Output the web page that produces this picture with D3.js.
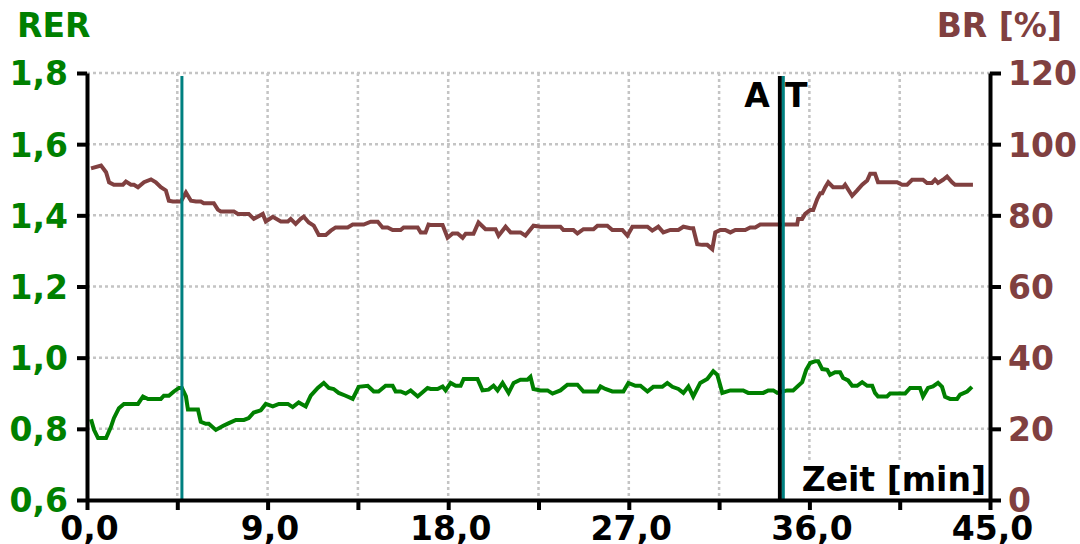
<!DOCTYPE html>
<html><head><meta charset="utf-8">
<script src="https://cdn.jsdelivr.net/npm/d3@7"></script>
<style>html,body{margin:0;padding:0;background:#fff;overflow:hidden}</style>
</head><body>
<svg id="c" width="1080" height="544"></svg>
<script>
// ---- data ----
const brTime = [0.20,0.70,0.95,1.10,1.34,1.79,1.94,2.19,2.34,2.54,2.84,3.19,3.43,3.68,3.93,4.08,4.28,4.68,4.93,5.18,5.43,5.67,5.82,6.32,6.52,6.67,7.32,7.52,8.06,8.31,8.76,8.91,9.26,9.66,10.01,10.15,10.40,10.65,10.80,11.05,11.30,11.55,11.90,12.15,12.39,12.99,13.24,13.79,14.14,14.49,14.73,14.98,15.23,15.63,15.78,16.48,16.63,16.87,17.02,17.12,17.72,17.97,18.22,18.47,18.72,18.87,19.26,19.51,19.86,20.36,20.51,20.86,21.11,21.60,21.85,22.25,22.60,23.59,23.74,24.24,24.44,24.74,25.24,25.44,25.93,26.18,26.68,26.93,27.18,27.93,28.17,28.47,28.72,29.07,29.47,29.72,30.07,30.21,30.41,30.66,30.91,31.16,31.31,31.56,31.81,32.06,32.31,32.80,33.05,33.30,33.55,34.40,34.89,35.39,35.44,35.64,35.79,36.04,36.19,36.39,36.54,36.64,36.79,36.94,37.18,37.68,37.78,38.13,38.38,38.63,38.88,39.03,39.27,39.42,40.37,40.62,40.87,41.12,41.66,41.86,42.11,42.26,42.41,42.66,42.86,43.11,43.26,44.15];
const brValues = [93.2,94.0,92.1,89.3,88.6,88.6,89.5,88.6,88.6,87.9,89.3,90.1,89.3,87.9,87.0,84.1,83.9,83.9,86.4,84.1,83.9,83.9,83.4,83.4,81.6,81.1,81.1,80.4,80.4,79.0,80.4,78.3,79.6,78.3,78.3,79.0,77.6,79.0,79.6,78.0,77.1,74.5,74.5,75.7,76.6,76.6,77.4,77.4,78.2,78.2,76.6,76.6,75.9,75.9,76.6,76.6,75.2,75.2,77.4,77.3,77.3,73.7,74.9,74.9,73.7,74.8,74.8,78.0,76.1,76.1,74.3,76.8,75.2,75.2,74.3,77.1,76.8,76.8,75.9,75.9,74.9,76.1,76.1,77.1,77.1,75.9,75.9,74.3,76.8,76.8,75.7,76.8,75.2,75.9,75.9,76.8,76.4,76.4,71.9,71.7,71.7,70.5,75.2,75.9,75.9,75.2,75.9,75.9,76.6,76.6,77.4,77.4,77.4,77.4,79.0,79.0,80.4,81.5,81.5,84.6,86.2,86.2,87.9,89.3,87.9,87.9,88.6,85.5,87.0,88.6,89.8,91.7,91.7,89.3,89.3,88.6,88.6,90.0,90.0,89.1,89.1,90.0,89.1,90.0,90.9,89.3,88.6,88.6];

const rerTime = [0.20,0.35,0.55,0.95,1.19,1.34,1.59,1.84,2.54,2.79,3.04,3.68,3.83,4.08,4.33,4.58,4.73,4.93,5.03,5.53,5.67,5.92,6.07,6.42,6.77,7.07,7.42,7.82,8.06,8.31,8.66,8.91,9.26,9.56,10.01,10.25,10.55,10.90,11.15,11.50,11.80,12.05,12.29,12.54,12.89,13.24,13.54,13.99,14.29,14.53,14.88,15.23,15.38,15.63,15.88,16.13,16.48,16.97,17.12,17.47,17.72,17.87,18.12,18.37,18.62,18.77,19.46,19.71,20.01,20.26,20.46,20.71,21.01,21.26,21.60,21.95,22.10,22.25,22.60,22.95,23.20,23.59,23.94,24.44,24.74,25.44,25.59,25.83,26.18,26.73,26.98,27.33,27.58,27.93,28.22,28.67,28.92,29.17,29.47,29.72,29.97,30.21,30.56,30.91,31.21,31.41,31.66,32.06,32.70,32.95,33.70,33.95,34.20,34.40,34.89,35.19,35.39,35.64,35.84,36.04,36.29,36.44,36.64,36.89,37.03,37.28,37.53,37.68,37.93,38.13,38.38,38.63,38.88,39.13,39.27,39.42,39.87,40.02,40.77,41.02,41.51,41.66,41.91,42.16,42.41,42.61,42.76,43.01,43.36,43.51,43.86,44.10];
const rerValues = [0.827,0.797,0.774,0.774,0.805,0.830,0.858,0.870,0.870,0.891,0.884,0.884,0.893,0.893,0.905,0.915,0.915,0.891,0.854,0.854,0.820,0.814,0.814,0.797,0.808,0.816,0.825,0.825,0.830,0.846,0.852,0.870,0.863,0.870,0.870,0.861,0.874,0.863,0.893,0.915,0.929,0.915,0.912,0.901,0.893,0.884,0.918,0.921,0.905,0.905,0.921,0.921,0.905,0.905,0.899,0.908,0.891,0.915,0.912,0.912,0.919,0.908,0.929,0.921,0.921,0.940,0.940,0.908,0.910,0.921,0.908,0.929,0.901,0.929,0.938,0.938,0.946,0.912,0.908,0.908,0.899,0.908,0.924,0.924,0.905,0.905,0.919,0.912,0.905,0.905,0.929,0.921,0.921,0.905,0.918,0.918,0.929,0.918,0.912,0.901,0.919,0.891,0.929,0.940,0.962,0.952,0.901,0.908,0.908,0.901,0.901,0.908,0.908,0.901,0.908,0.908,0.918,0.931,0.966,0.985,0.990,0.990,0.968,0.966,0.952,0.959,0.959,0.943,0.936,0.921,0.921,0.931,0.921,0.921,0.901,0.891,0.891,0.899,0.899,0.915,0.915,0.891,0.915,0.919,0.929,0.918,0.890,0.884,0.884,0.896,0.905,0.918];

const xTicks = [0,4.5,9,13.5,18,22.5,27,31.5,36,40.5,45];
const xTickLabels = {0:"0,0",9:"9,0",18:"18,0",27:"27,0",36:"36,0",45:"45,0"};
const rerTicks = [0.6,0.8,1.0,1.2,1.4,1.6,1.8];
const rerTickLabels = ["0,6","0,8","1,0","1,2","1,4","1,6","1,8"];
const brTicks = [0,20,40,60,80,100,120];
const brTickLabels = ["0","20","40","60","80","100","120"];
const tealMarkers = [4.73, 34.70];
const atMarker = 34.53;
const atLabels = ["A","T"];
const titles = {left:"RER", right:"BR [%]", x:"Zeit [min]"};

// ---- drawing ----
const FONT = "'DejaVu Sans', sans-serif";
const svg = d3.select("#c");
const L = 87, R = 990, T = 73, B = 500;
const x = d3.scaleLinear().domain([0,45]).range([L,R]);
const yL = d3.scaleLinear().domain([0.6,1.8]).range([B,T]);
const yR = d3.scaleLinear().domain([0,120]).range([B,T]);
const GREEN = "#008000", BROWN = "#804040", TEAL = "#008080";

// grid
const grid = svg.append("g").attr("stroke","#c4c4c4").attr("stroke-width",2.5).attr("stroke-dasharray","3,3");
rerTicks.filter(v=>v>0.6).forEach(v=>{
  grid.append("line").attr("x1",L).attr("x2",R).attr("y1",yL(v)).attr("y2",yL(v));
});
xTicks.filter(v=>v>0 && v<45).forEach(v=>{
  grid.append("line").attr("x1",x(v)).attr("x2",x(v)).attr("y1",T).attr("y2",B);
});

// data lines
const brLine = d3.line().x((d,i)=>x(brTime[i])).y(d=>yR(d));
const rerLine = d3.line().x((d,i)=>x(rerTime[i])).y(d=>yL(d));
svg.append("path").attr("d",brLine(brValues)).attr("fill","none").attr("stroke",BROWN).attr("stroke-width",4).attr("stroke-linejoin","miter");
svg.append("path").attr("d",rerLine(rerValues)).attr("fill","none").attr("stroke",GREEN).attr("stroke-width",4).attr("stroke-linejoin","miter");

// markers
svg.append("line").attr("x1",x(atMarker)).attr("x2",x(atMarker)).attr("y1",T+3).attr("y2",B)
  .attr("stroke","#000").attr("stroke-width",4);
tealMarkers.forEach(t=>{
  svg.append("line").attr("x1",x(t)).attr("x2",x(t)).attr("y1",T+3).attr("y2",B)
    .attr("stroke",TEAL).attr("stroke-width",3);
});
svg.append("text").attr("x",x(atMarker)-10).attr("y",107).attr("text-anchor","end")
  .attr("font-family",FONT).attr("font-weight","bold").attr("font-size",33).attr("fill","#000").text(atLabels[0]);
svg.append("text").attr("x",x(atMarker)+5).attr("y",107).attr("text-anchor","start")
  .attr("font-family",FONT).attr("font-weight","bold").attr("font-size",33).attr("fill","#000").text(atLabels[1]);

// x title with white background
svg.append("rect").attr("x",800).attr("y",461).attr("width",187).attr("height",37).attr("fill","#fff");
svg.append("text").attr("x",986).attr("y",491).attr("text-anchor","end")
  .attr("font-family",FONT).attr("font-weight","bold").attr("font-size",33).attr("fill","#000").text(titles.x);

// axes
function styleAxis(g, color){
  g.select(".domain").attr("stroke","#000").attr("stroke-width",4);
  g.selectAll(".tick line").attr("stroke","#000").attr("stroke-width",4);
  g.selectAll(".tick text").attr("font-family",FONT).attr("font-weight","bold").attr("font-size",33).attr("fill",color);
}
const gx = svg.append("g").attr("transform",`translate(0,${B})`)
  .call(d3.axisBottom(x).tickValues(xTicks).tickSize(10).tickSizeOuter(0).tickPadding(7)
    .tickFormat(d=>xTickLabels[d]||""));
styleAxis(gx,"#000");
gx.selectAll(".tick text").attr("dy","0.71em").attr("dx",2);

const gl = svg.append("g").attr("transform",`translate(${L},0)`)
  .call(d3.axisLeft(yL).tickValues(rerTicks).tickSize(10).tickSizeOuter(0).tickPadding(9)
    .tickFormat((d,i)=>rerTickLabels[i]));
styleAxis(gl,GREEN);
gl.selectAll(".tick text").attr("dy","0.36em");

const gr = svg.append("g").attr("transform",`translate(${R},0)`)
  .call(d3.axisRight(yR).tickValues(brTicks).tickSize(11).tickSizeOuter(0).tickPadding(7)
    .tickFormat((d,i)=>brTickLabels[i]));
styleAxis(gr,BROWN);
gr.selectAll(".tick text").attr("dy","0.36em");

// titles
svg.append("text").attr("x",17).attr("y",37).attr("font-family",FONT).attr("font-weight","bold")
  .attr("font-size",33).attr("fill",GREEN).text(titles.left);
svg.append("text").attr("x",1062).attr("y",37).attr("text-anchor","end").attr("font-family",FONT).attr("font-weight","bold")
  .attr("font-size",33).attr("fill",BROWN).text(titles.right);
</script>
</body></html>
